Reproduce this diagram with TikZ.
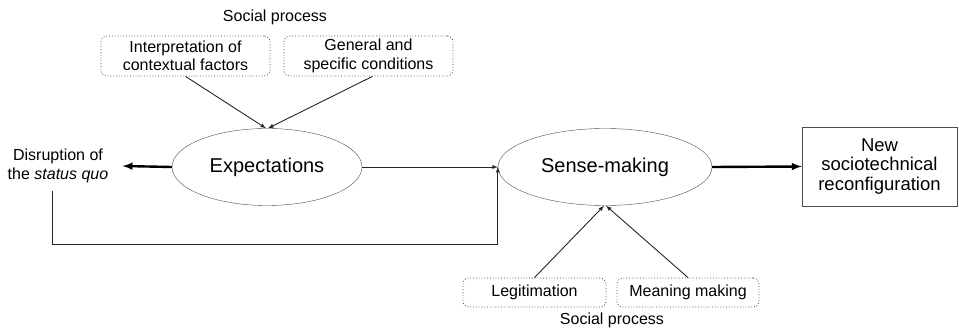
\documentclass[tikz,border=0pt]{standalone}
\usepackage{fontspec}
\setmainfont{Liberation Sans}
\usetikzlibrary{positioning, arrows, shapes}
\begin{document}
\begin{tikzpicture}[x=1pt,y=-1pt,>=latex,
    small/.style={font=\fontsize{16}{18.5}\selectfont, align=center},
    big/.style={font=\fontsize{20}{20}\selectfont, align=center},
    proc/.style={small,draw=black!75,dotted,line width=0.8pt,rounded corners=6pt,inner sep=0pt,minimum height=40pt},
    stage/.style={big,ellipse,draw=black!70,inner sep=0pt,minimum width=190pt,minimum height=77pt},
    outcome/.style={font=\fontsize{18.5}{19.5}\selectfont,align=center,draw=black!70,inner sep=0pt,minimum width=155pt,minimum height=79pt},
    thin/.style={->,draw=black!85,line width=0.9pt},
    thick/.style={->,draw=black,line width=2.4pt},
]
\useasboundingbox (0,0) rectangle (959,331);
		    % create the nodes
			    \node[stage] (exp) at (267,167) {Expectations};
			    \node[stage,minimum width=214pt] (sense) at (605,167) {Sense-making};
			    \node[outcome] (new) at (879.5,166.5) {New\\sociotechnical\\reconfiguration};
			    \node[proc,minimum width=169pt] (ctx) at (185.5,56) {Interpretation of\\contextual factors};
			    \node[proc,minimum width=169pt] (cond) at (368.5,56) {General and\\specific conditions};
			    \node[small] (sptop) at (275,17) {Social process};
			    \node[small,inner sep=2pt] (dis) at (58,166) {Disruption of\\the \textit{status quo}};
			    \node[proc,minimum width=143pt,minimum height=29pt] (leg) at (534.5,292.5) {Legitimation};
			    \node[proc,minimum width=142pt,minimum height=29pt] (mean) at (688,292.5) {Meaning making};
			    \node[small] (spbot) at (612,320) {Social process};
			    \coordinate (loop) at (52,244); %return line
		    % connect them
			    \draw[thin] (ctx.south) -- ([xshift=-1pt]exp.north);
			    \draw[thin] ([xshift=4pt]cond.south) -- ([xshift=1pt]exp.north);
			    \draw[thin] (leg.north) -- ([xshift=-1pt]sense.south);
			    \draw[thin] (mean.north) -- ([xshift=1pt]sense.south);
			    \draw[thin] (exp.east) -- (sense.west);
			    \draw[thin,-] (loop |- dis.south) ++(0,6) -- (loop);
			    \draw[thin] (loop) -| (sense.west);
			    \draw[thick] (exp.west) -- ([xshift=12pt]dis.east);
			    \draw[thick] (sense.east) -- (new.west);
\end{tikzpicture}
\end{document}
